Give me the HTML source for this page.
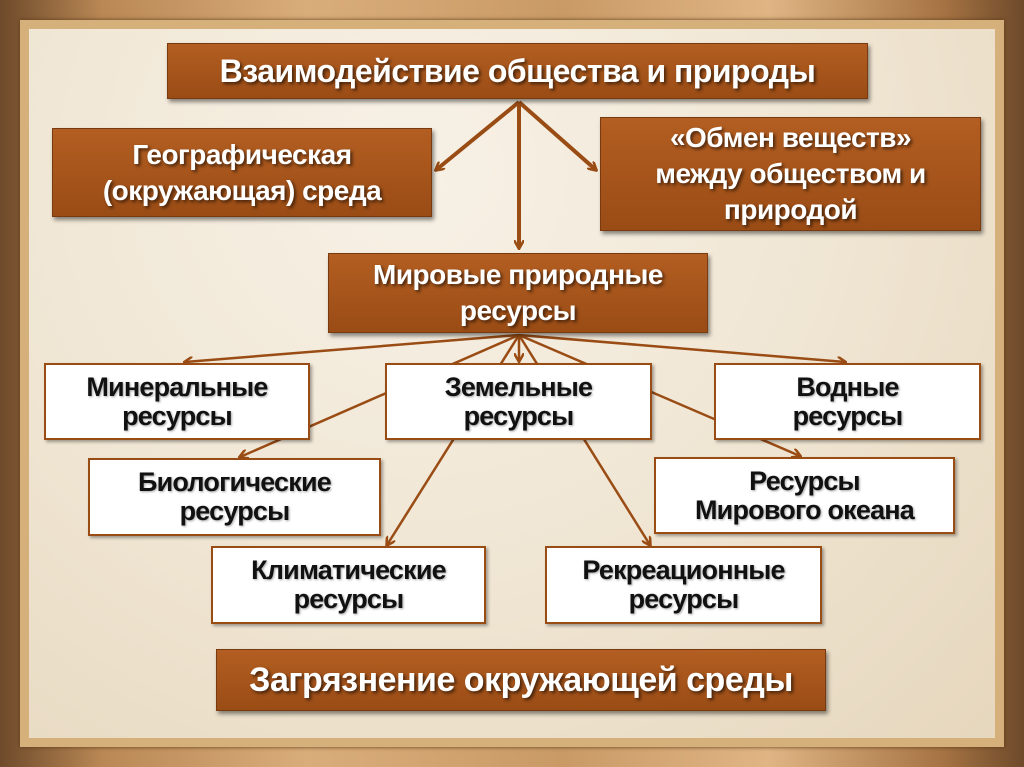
<!DOCTYPE html>
<html><head><meta charset="utf-8"><style>
body{margin:0;width:1024px;height:767px;overflow:hidden;font-family:"Liberation Sans","DejaVu Sans",sans-serif;}
#bg{position:absolute;left:0;top:0;width:1024px;height:767px;background:linear-gradient(90deg,#6e4a2a 0%,#b98855 10%,#d9ad7a 30%,#c99a66 55%,#e0b584 75%,#a67444 92%,#6e4a2a 100%);}
#frame{position:absolute;left:20px;top:20px;width:984px;height:727px;background:#d6b07a;box-shadow:0 0 4px #5a3a1a;}
#panel{position:absolute;left:29px;top:29px;width:966px;height:709px;background:radial-gradient(ellipse at 40% 20%,#f7f1e6 0%,#f0e6d4 50%,#e6d7bd 100%);}
.b{position:absolute;box-sizing:border-box;display:flex;align-items:center;justify-content:center;text-align:center;font-weight:bold;white-space:nowrap;}
.br{background:linear-gradient(#b35e22,#9a4c15);color:#fff;border:1px solid #7a3a10;box-shadow:2px 3px 4px rgba(0,0,0,.45);text-shadow:2px 2px 3px rgba(0,0,0,.6);font-size:28px;line-height:36px;letter-spacing:-0.5px;}
.w{background:#fff;border:2px solid #9a4c15;color:#111;font-size:27px;line-height:29px;box-shadow:2px 2px 3px rgba(0,0,0,.35);text-shadow:1px 1px 2px rgba(0,0,0,.35);letter-spacing:-0.8px;}
svg{position:absolute;left:0;top:0;}
</style></head><body>
<div id="bg"></div><div id="frame"></div><div id="panel"></div>
<svg width="1024" height="767">
<defs><marker id="a" markerWidth="10" markerHeight="10" refX="8" refY="5" orient="auto" markerUnits="userSpaceOnUse"><path d="M0,0 L9,5 L0,10" fill="none" stroke="#9a4c15" stroke-width="2.5"/></marker></defs>
<g stroke="#9a4c15" stroke-width="4" fill="none" marker-end="url(#a)">
<line x1="519" y1="102" x2="436" y2="170"/>
<line x1="519" y1="102" x2="596" y2="170"/>
<line x1="519" y1="102" x2="519" y2="248"/>
</g>
<g stroke="#9a4c15" stroke-width="2.5" fill="none" marker-end="url(#a)">
<line x1="519" y1="335" x2="185" y2="362"/>
<line x1="519" y1="335" x2="845" y2="362"/>
<line x1="519" y1="335" x2="519" y2="361"/>
<line x1="519" y1="335" x2="240" y2="457"/>
<line x1="519" y1="335" x2="800" y2="456"/>
<line x1="519" y1="335" x2="387" y2="545"/>
<line x1="519" y1="335" x2="650" y2="545"/>
</g></svg>
<div class="b br" style="left:167px;top:43px;width:701px;height:56px;font-size:32px">Взаимодействие общества и природы</div>
<div class="b br" style="left:52px;top:128px;width:380px;height:89px">Географическая<br>(окружающая) среда</div>
<div class="b br" style="left:600px;top:117px;width:381px;height:114px">«Обмен веществ»<br>между обществом и<br>природой</div>
<div class="b br" style="left:328px;top:253px;width:380px;height:80px">Мировые природные<br>ресурсы</div>
<div class="b w" style="left:44px;top:363px;width:266px;height:77px">Минеральные<br>ресурсы</div>
<div class="b w" style="left:385px;top:363px;width:267px;height:77px">Земельные<br>ресурсы</div>
<div class="b w" style="left:714px;top:363px;width:267px;height:77px">Водные<br>ресурсы</div>
<div class="b w" style="left:88px;top:458px;width:293px;height:78px">Биологические<br>ресурсы</div>
<div class="b w" style="left:654px;top:457px;width:301px;height:77px">Ресурсы<br>Мирового океана</div>
<div class="b w" style="left:211px;top:546px;width:275px;height:78px">Климатические<br>ресурсы</div>
<div class="b w" style="left:545px;top:546px;width:277px;height:78px">Рекреационные<br>ресурсы</div>
<div class="b br" style="left:216px;top:649px;width:610px;height:62px;font-size:34px">Загрязнение окружающей среды</div>
</body></html>
